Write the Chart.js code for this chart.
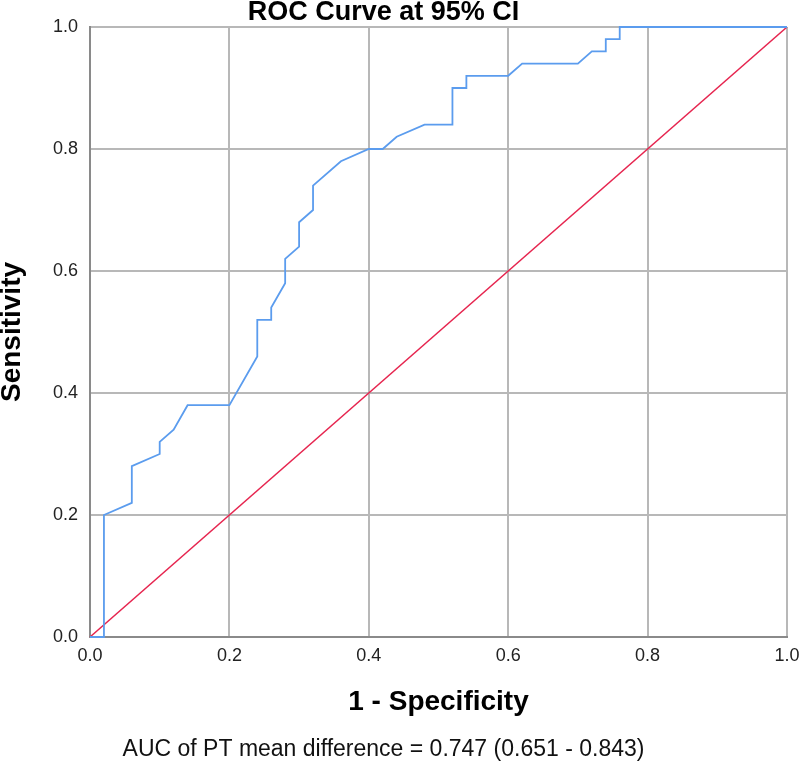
<!DOCTYPE html>
<html>
<head>
<meta charset="utf-8">
<title>ROC Curve at 95% CI</title>
<script src="https://cdn.jsdelivr.net/npm/chart.js@4.4.1/dist/chart.umd.min.js"></script>
<style>
  html, body { margin: 0; padding: 0; background: #fff; }
  canvas { display: block; }
</style>
</head>
<body>
<canvas id="roc-chart" width="800" height="764"></canvas>
<script>
// ROC curve points (1 - specificity, sensitivity)
const rocFpr = [0, 0.02, 0.02, 0.06, 0.06, 0.10, 0.10, 0.12, 0.14, 0.20, 0.24, 0.24, 0.26, 0.26, 0.28, 0.28,
  0.30, 0.30, 0.32, 0.32, 0.36, 0.40, 0.42, 0.44, 0.48, 0.52, 0.52, 0.54, 0.54, 0.60, 0.62, 0.70,
  0.72, 0.74, 0.74, 0.76, 0.76, 1.0];
const rocTpr = [0, 0, 0.20, 0.22, 0.28, 0.30, 0.32, 0.34, 0.38, 0.38, 0.46, 0.52, 0.52, 0.54, 0.58, 0.62,
  0.64, 0.68, 0.70, 0.74, 0.78, 0.80, 0.80, 0.82, 0.84, 0.84, 0.90, 0.90, 0.92, 0.92, 0.94, 0.94,
  0.96, 0.96, 0.98, 0.98, 1.0, 1.0];

// reference line
const refX = [0, 1];
const refY = [0, 1];

const axisTicks = [0, 0.2, 0.4, 0.6, 0.8, 1.0];

const chartTitle = 'ROC Curve at 95% CI';
const xTitle = '1 - Specificity';
const yTitle = 'Sensitivity';
const aucNote = 'AUC of PT mean difference = 0.747 (0.651 - 0.843)';

const toPoints = (xs, ys) => xs.map((x, i) => ({ x: x, y: ys[i] }));

const FONT = "'Liberation Sans', Arial, sans-serif";

function axisOptions(titleText, isX) {
  return {
    type: 'linear',
    min: 0,
    max: 1,
    afterBuildTicks: scale => {
      scale.ticks = axisTicks.map(v => ({ value: v }));
    },
    // fixed box sizes so the plot area lands where the original has it
    afterFit: scale => {
      if (isX) {
        scale.height = 101;
        scale.paddingLeft = 0;
        scale.paddingRight = 0;
      } else {
        scale.width = 110;
      }
    },
    grid: {
      color: '#b8b8b8',
      lineWidth: 2,
      drawTicks: false
    },
    border: {
      display: true,
      color: '#8a8a8a',
      width: 2
    },
    ticks: {
      padding: isX ? 8 : 12,
      color: '#222',
      font: { family: FONT, size: 18 },
      callback: v => Number(v).toFixed(1)
    },
    title: {
      display: true,
      text: titleText,
      color: '#000',
      font: { family: FONT, size: 28, weight: 'bold', lineHeight: 1 },
      padding: isX ? { top: 0, bottom: 22 } : { top: 18, bottom: 0 }
    }
  };
}

new Chart(document.getElementById('roc-chart').getContext('2d'), {
  type: 'scatter',
  data: {
    datasets: [
      {
        label: 'ROC',
        data: toPoints(rocFpr, rocTpr),
        showLine: true,
        borderColor: '#5b9cee',
        borderWidth: 1.8,
        pointRadius: 0,
        tension: 0,
        clip: 5
      },
      {
        label: 'Reference',
        data: toPoints(refX, refY),
        showLine: true,
        borderColor: '#e6254f',
        borderWidth: 1.6,
        pointRadius: 0,
        tension: 0,
        clip: 5
      }
    ]
  },
  options: {
    responsive: false,
    animation: false,
    layout: {
      // negative left padding moves the centred title/subtitle left like the original
      padding: { left: -20, right: 13, top: 0, bottom: 0 }
    },
    plugins: {
      legend: { display: false },
      tooltip: { enabled: false },
      title: {
        display: true,
        text: chartTitle,
        color: '#000',
        font: { family: FONT, size: 27, weight: 'bold', lineHeight: 1 },
        padding: { top: -1, bottom: 1 }
      },
      subtitle: {
        display: true,
        position: 'bottom',
        text: aucNote,
        color: '#111',
        font: { family: FONT, size: 23, lineHeight: 1 },
        padding: { top: 0, bottom: 3 }
      }
    },
    scales: {
      x: axisOptions(xTitle, true),
      y: axisOptions(yTitle, false)
    }
  }
});
</script>
</body>
</html>
